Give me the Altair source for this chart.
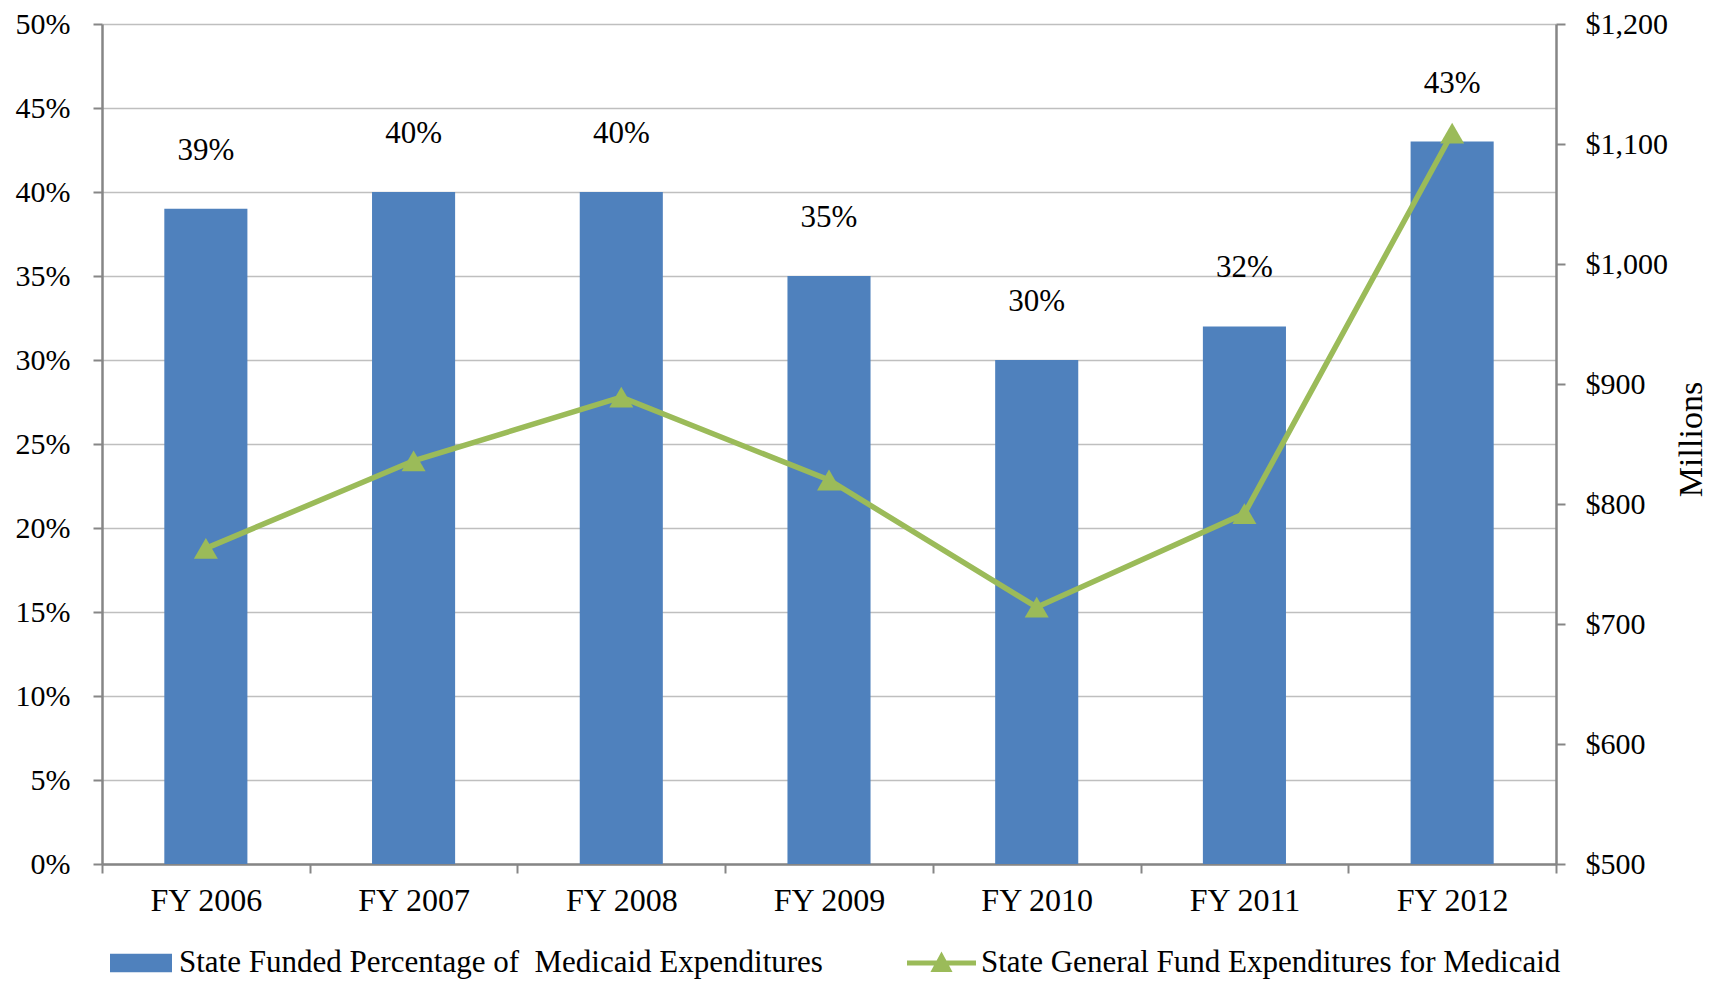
import altair as alt
import pandas as pd

years = ["FY 2006", "FY 2007", "FY 2008", "FY 2009", "FY 2010", "FY 2011", "FY 2012"]
state_pct = [0.39, 0.40, 0.40, 0.35, 0.30, 0.32, 0.43]
gf_millions = [763, 836, 889, 820, 714, 792, 1109]

BAR_SERIES = "State Funded Percentage of\u00a0 Medicaid Expenditures"
LINE_SERIES = "State General Fund Expenditures for Medicaid"

left_ticks = [0, 0.05, 0.10, 0.15, 0.20, 0.25, 0.30, 0.35, 0.40, 0.45, 0.50]
right_ticks = [500, 600, 700, 800, 900, 1000, 1100, 1200]

df = pd.DataFrame({"year": years, "pct": state_pct, "gf": gf_millions,
                   "bs": BAR_SERIES, "ls": LINE_SERIES})

FONT = "Liberation Serif"
BLUE = "#4F81BD"
GREEN = "#9BBB59"
AXIS_GRAY = "#868686"
GRID = "#BFBFBF"

x = alt.X("year:N", sort=years, title=None,
          scale=alt.Scale(paddingInner=0, paddingOuter=0),
          axis=alt.Axis(labelAngle=0, tickBand="extent", domainColor=AXIS_GRAY, domainWidth=2.5,
                        tickColor=AXIS_GRAY, tickWidth=2, tickSize=9, labelPadding=12,
                        labelFont=FONT, labelFontSize=32, labelColor="black", grid=False))

y_left = alt.Y("pct:Q", scale=alt.Scale(domain=[0, 0.5], nice=False),
               axis=alt.Axis(values=left_ticks, format=".0%", title=None, orient="left",
                             grid=True, gridColor=GRID, gridWidth=1.5,
                             domainColor=AXIS_GRAY, domainWidth=2.5, tickColor=AXIS_GRAY,
                             tickWidth=2, tickSize=9, labelPadding=23, labelFont=FONT,
                             labelFontSize=30, labelColor="black"))

y_right = alt.Y("gf:Q", scale=alt.Scale(domain=[500, 1200], nice=False),
                axis=alt.Axis(orient="right", values=right_ticks, format="$,d", title="Millions",
                              titleAngle=270, titleX=135, titleY=415, titleAlign="center",
                              titleBaseline="middle", titleFont=FONT, titleFontSize=34,
                              titleFontWeight="normal", titleColor="black", grid=False,
                              domainColor=AXIS_GRAY, domainWidth=2.5, tickColor=AXIS_GRAY,
                              tickWidth=2, tickSize=9, labelPadding=20, labelFont=FONT,
                              labelFontSize=30, labelColor="black"))

bar_legend = alt.Legend(title=None, orient="none", legendX=8, legendY=908, padding=0,
                        symbolType="M-1,-0.3 H1 V0.3 H-1 Z", symbolSize=3844,
                        symbolStrokeWidth=0, labelOffset=7, labelLimit=1200,
                        labelFont=FONT, labelFontSize=31, labelColor="black")
line_legend = alt.Legend(title=None, orient="none", legendX=805, legendY=904.5, padding=0,
                         symbolType="M-1,-0.075 H1 V0.075 H-1 Z M0,-0.33 L0.32,0.26 L-0.32,0.26 Z",
                         symbolSize=4761, symbolStrokeWidth=0, labelOffset=5, labelLimit=1200,
                         labelFont=FONT, labelFontSize=31, labelColor="black")

bars = alt.Chart().mark_bar(width=alt.RelativeBandSize(0.4)).encode(
    x=x, y=y_left,
    color=alt.Color("bs:N", scale=alt.Scale(domain=[BAR_SERIES], range=[BLUE]), legend=bar_legend))

labels = alt.Chart().mark_text(dy=-58, font=FONT, fontSize=31, baseline="middle", color="black").encode(
    x=x, y=y_left, text=alt.Text("pct:Q", format=".0%"))

line = alt.Chart().mark_line(color=GREEN, strokeWidth=5.5).encode(x=x, y=y_right)

points = alt.Chart().mark_point(shape="triangle-up", filled=True, size=576, opacity=1).encode(
    x=x, y=y_right,
    fill=alt.Fill("ls:N", scale=alt.Scale(domain=[LINE_SERIES], range=[GREEN]), legend=line_legend))

left = alt.layer(bars, labels)
right = alt.layer(line, points)

chart = alt.layer(left, right, data=df).resolve_scale(y="independent").properties(
    width=1454, height=840,
    autosize=alt.AutoSizeParams(type="none"),
    padding={"left": 94, "top": 16, "right": 156, "bottom": 120},
    background="white",
).configure_view(stroke=None)

chart.save("out.html", embed_options={"renderer": "svg", "actions": False})
